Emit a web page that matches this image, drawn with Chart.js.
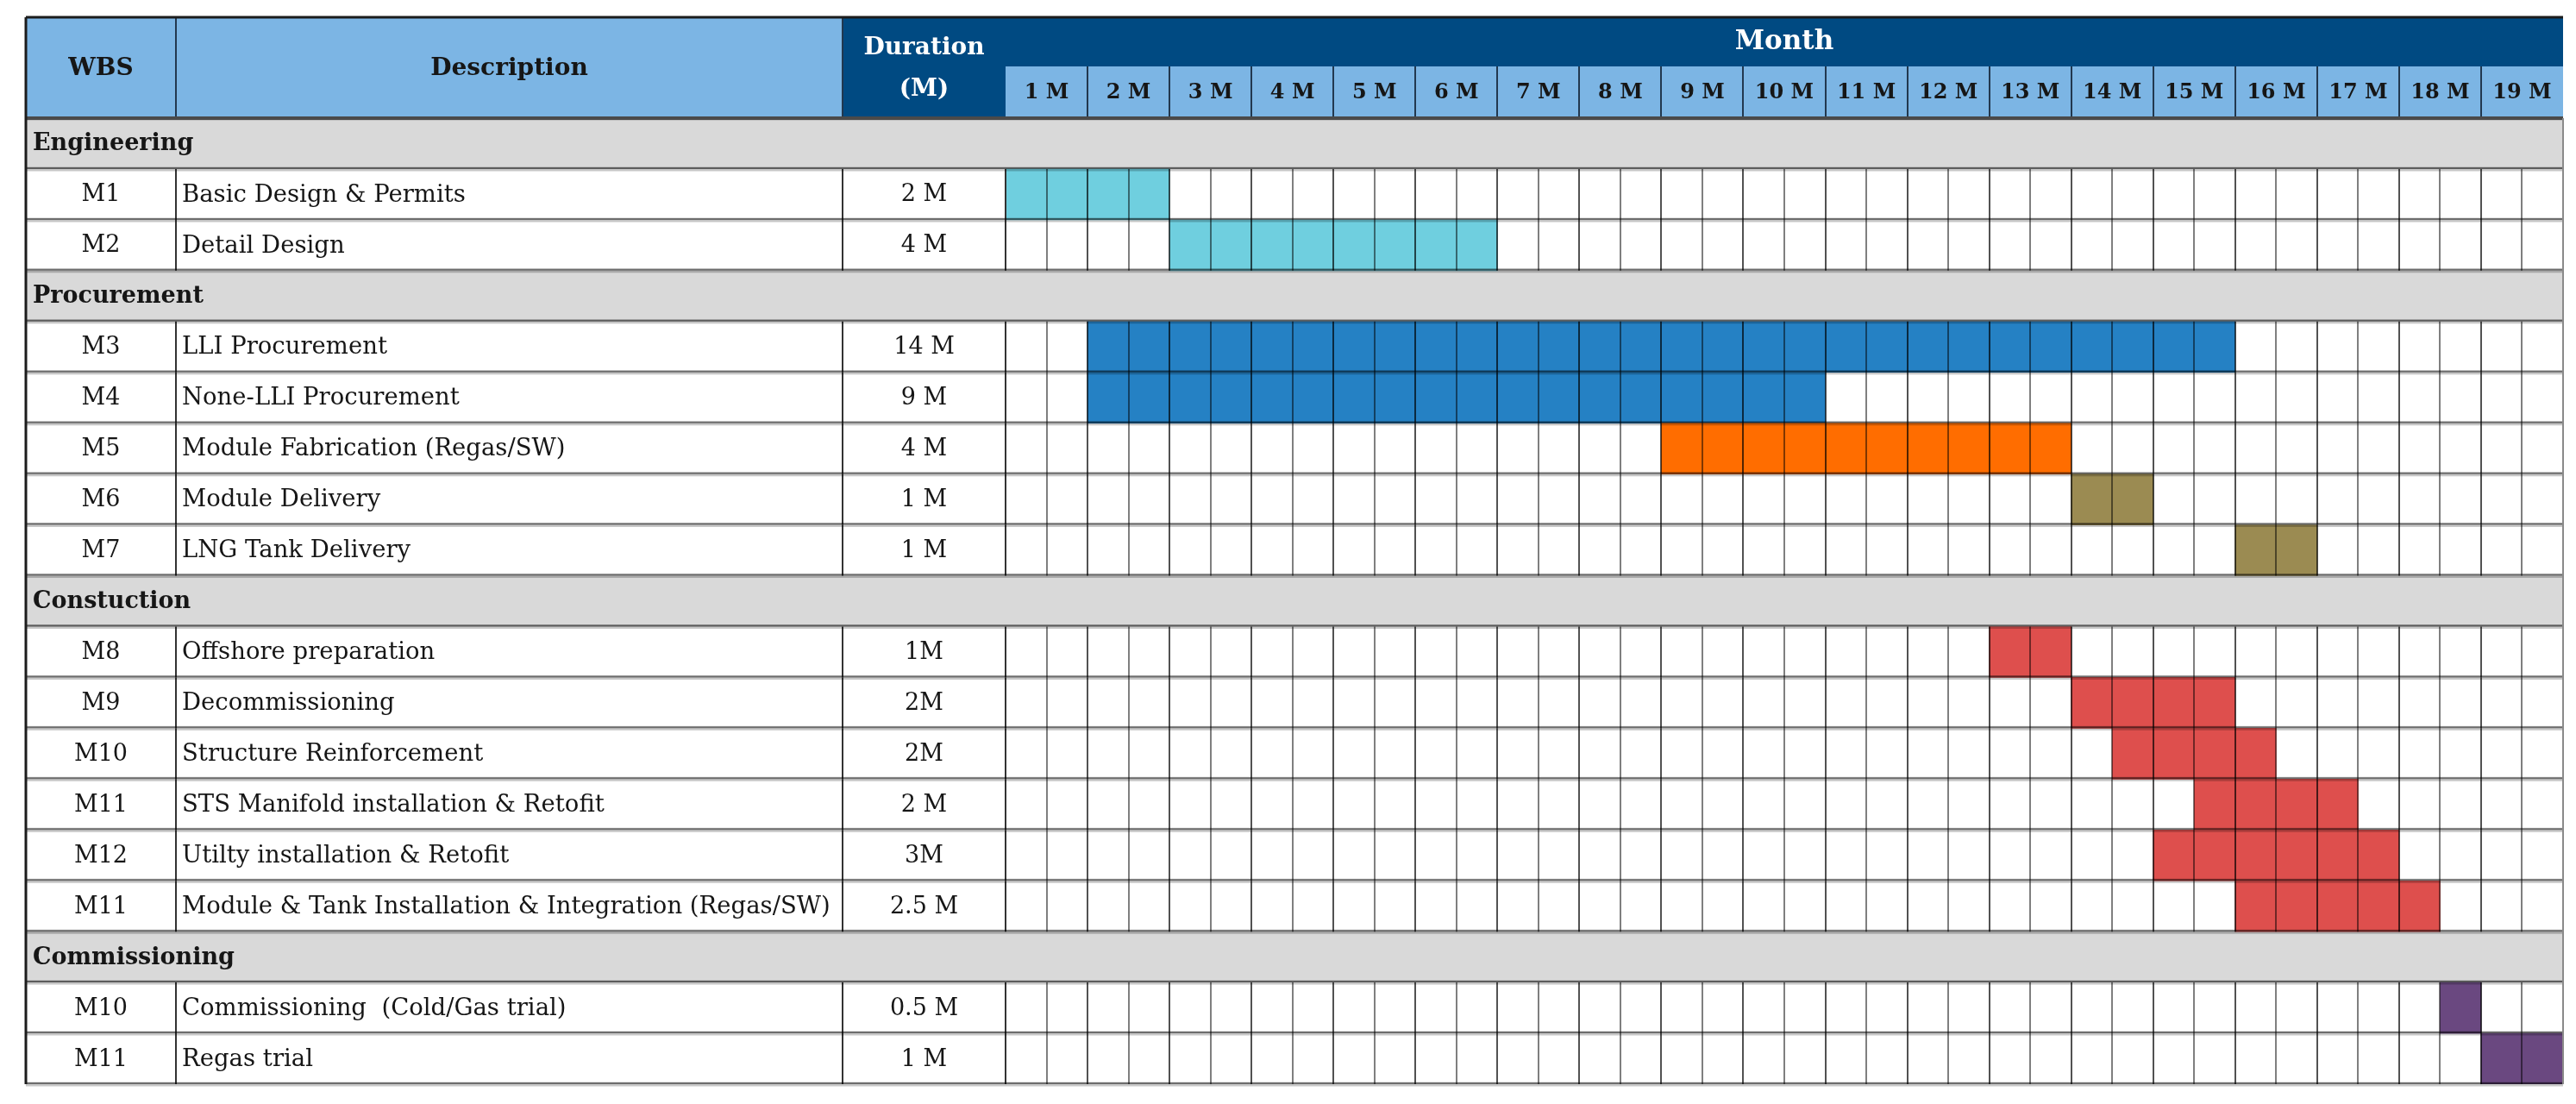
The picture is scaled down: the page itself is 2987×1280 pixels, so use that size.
<!DOCTYPE html>
<html>
<head>
<meta charset="utf-8">
<script src="https://cdn.jsdelivr.net/npm/chart.js@4/dist/chart.umd.min.js"></script>
<style>
  html, body { margin: 0; padding: 0; background: #fff; }
  #wrap { width: 2987px; height: 1280px; position: relative; }
</style>
</head>
<body>
<div id="wrap"><canvas id="gantt" width="2987" height="1280"></canvas></div>
<script>
// ---------------- DATA ----------------
const sectionNames = ['Engineering', 'Procurement', 'Constuction', 'Commissioning'];
const sectionTaskCounts = [2, 5, 6, 2];
const wbsCodes = ['M1', 'M2', 'M3', 'M4', 'M5', 'M6', 'M7', 'M8', 'M9', 'M10', 'M11', 'M12', 'M11', 'M10', 'M11'];
const descriptions = [
  'Basic Design & Permits',
  'Detail Design',
  'LLI Procurement',
  'None-LLI Procurement',
  'Module Fabrication (Regas/SW)',
  'Module Delivery',
  'LNG Tank Delivery',
  'Offshore preparation',
  'Decommissioning',
  'Structure Reinforcement',
  'STS Manifold installation & Retofit',
  'Utilty installation & Retofit',
  'Module & Tank Installation & Integration (Regas/SW)',
  'Commissioning  (Cold/Gas trial)',
  'Regas trial'
];
const durations = ['2 M', '4 M', '14 M', '9 M', '4 M', '1 M', '1 M', '1M', '2M', '2M', '2 M', '3M', '2.5 M', '0.5 M', '1 M'];
// schedule in half-month cells (0 = start of month 1)
const startHalfMonth = [0, 4, 2, 2, 16, 26, 30, 24, 26, 27, 29, 28, 30, 35, 36];
const endHalfMonth   = [4, 12, 30, 20, 26, 28, 32, 26, 30, 31, 33, 34, 35, 36, 38];
const taskColors = ['#6FCFDF', '#6FCFDF', '#2581C4', '#2581C4', '#FF6D00', '#9B8B52', '#9B8B52',
  '#DE4F4D', '#DE4F4D', '#DE4F4D', '#DE4F4D', '#DE4F4D', '#DE4F4D', '#6A4880', '#6A4880'];
const monthLabels = ['1 M', '2 M', '3 M', '4 M', '5 M', '6 M', '7 M', '8 M', '9 M', '10 M',
  '11 M', '12 M', '13 M', '14 M', '15 M', '16 M', '17 M', '18 M', '19 M'];
const headerTexts = { wbs: 'WBS', desc: 'Description', dur1: 'Duration', dur2: '(M)', month: 'Month' };

// ---------------- ROWS ----------------
const rowKeys = [];
const rowTask = [];
(function () {
  let t = 0;
  sectionNames.forEach((s, si) => {
    rowKeys.push('S' + si); rowTask.push(-1);
    for (let j = 0; j < sectionTaskCounts[si]; j++) {
      rowKeys.push('T' + t); rowTask.push(t); t++;
    }
  });
})();
const barData = rowTask.map(ti => ti < 0 ? null : [startHalfMonth[ti], endHalfMonth[ti]]);
const barColors = rowTask.map(ti => ti < 0 ? 'rgba(0,0,0,0)' : taskColors[ti]);

// ---------------- LAYOUT ----------------
const TABLE_LEFT = 30;
const WBS_RIGHT = 204;
const DESC_RIGHT = 977;
const HEADER_TOP = 20;
const MONTH_BAND_BOTTOM = 77;
const FONT = "'DejaVu Serif', 'Liberation Serif', serif";
const LIGHT_BLUE = '#7CB5E4';
const NAVY = '#004A82';
const BAND_GRAY = '#D9D9D9';
const TEXT = '#161616';

const ganttTable = {
  id: 'ganttTable',
  beforeDatasetsDraw(chart) {
    const { ctx, chartArea: a, scales: { y } } = chart;
    const rh = (a.bottom - a.top) / rowKeys.length;
    ctx.save();
    ctx.fillStyle = '#fff';
    ctx.fillRect(0, 0, chart.width, chart.height);
    rowTask.forEach((ti, i) => {
      if (ti < 0) {
        const cy = y.getPixelForValue(i);
        ctx.fillStyle = BAND_GRAY;
        ctx.fillRect(TABLE_LEFT, cy - rh / 2, a.right - TABLE_LEFT, rh);
      }
    });
    ctx.restore();
  },
  afterDatasetsDraw(chart) {
    const { ctx, chartArea: a, scales: { x, y } } = chart;
    const rh = (a.bottom - a.top) / rowKeys.length;
    const nCells = monthLabels.length * 2;
    ctx.save();

    // ---- grid lines inside task rows ----
    rowTask.forEach((ti, i) => {
      if (ti < 0) return;
      const cy = y.getPixelForValue(i);
      const t0 = cy - rh / 2, t1 = cy + rh / 2;
      for (let k = 1; k < nCells; k++) {
        const px = Math.round(x.getPixelForValue(k));
        ctx.strokeStyle = (k % 2 === 0) ? 'rgba(0,0,0,0.68)' : 'rgba(0,0,0,0.5)';
        ctx.lineWidth = 2;
        ctx.beginPath(); ctx.moveTo(px, t0); ctx.lineTo(px, t1); ctx.stroke();
      }
      ctx.strokeStyle = '#333';
      ctx.lineWidth = 2;
      [WBS_RIGHT, DESC_RIGHT, a.left].forEach(px => {
        ctx.beginPath(); ctx.moveTo(px, t0); ctx.lineTo(px, t1); ctx.stroke();
      });
    });

    // ---- horizontal separators ----
    for (let i = 0; i <= rowKeys.length; i++) {
      const py = a.top + i * rh;
      ctx.strokeStyle = 'rgba(0,0,0,0.22)';
      ctx.lineWidth = 5;
      ctx.beginPath(); ctx.moveTo(TABLE_LEFT, py); ctx.lineTo(a.right, py); ctx.stroke();
      ctx.strokeStyle = 'rgba(0,0,0,0.45)';
      ctx.lineWidth = 2;
      ctx.beginPath(); ctx.moveTo(TABLE_LEFT, py - 1); ctx.lineTo(a.right, py - 1); ctx.stroke();
    }

    // ---- header ----
    ctx.fillStyle = LIGHT_BLUE;
    ctx.fillRect(TABLE_LEFT, HEADER_TOP, DESC_RIGHT - TABLE_LEFT, a.top - HEADER_TOP);
    ctx.fillStyle = NAVY;
    ctx.fillRect(DESC_RIGHT, HEADER_TOP, a.right - DESC_RIGHT, a.top - HEADER_TOP);
    ctx.fillStyle = LIGHT_BLUE;
    ctx.fillRect(a.left, MONTH_BAND_BOTTOM, a.right - a.left, a.top - MONTH_BAND_BOTTOM);
    // header dividers
    ctx.strokeStyle = '#22384f';
    ctx.lineWidth = 2;
    [WBS_RIGHT, DESC_RIGHT].forEach(px => {
      ctx.beginPath(); ctx.moveTo(px, HEADER_TOP); ctx.lineTo(px, a.top); ctx.stroke();
    });
    for (let m = 1; m < monthLabels.length; m++) {
      const px = Math.round(x.getPixelForValue(m * 2));
      ctx.beginPath(); ctx.moveTo(px, MONTH_BAND_BOTTOM); ctx.lineTo(px, a.top); ctx.stroke();
    }
    // header bottom line
    ctx.strokeStyle = '#4a4a4a';
    ctx.lineWidth = 4;
    ctx.beginPath(); ctx.moveTo(TABLE_LEFT, a.top); ctx.lineTo(a.right, a.top); ctx.stroke();

    // outer border
    ctx.strokeStyle = '#1c1c1c';
    ctx.lineWidth = 3;
    ctx.beginPath(); ctx.moveTo(TABLE_LEFT, HEADER_TOP); ctx.lineTo(a.right, HEADER_TOP); ctx.stroke();
    ctx.beginPath(); ctx.moveTo(TABLE_LEFT, HEADER_TOP); ctx.lineTo(TABLE_LEFT, a.bottom); ctx.stroke();
    ctx.strokeStyle = '#8a8a8a';
    ctx.lineWidth = 2;
    ctx.beginPath(); ctx.moveTo(a.right, a.top); ctx.lineTo(a.right, a.bottom); ctx.stroke();

    // ---- header text ----
    ctx.textBaseline = 'middle';
    ctx.textAlign = 'center';
    ctx.fillStyle = TEXT;
    ctx.font = 'bold 28px ' + FONT;
    ctx.fillText(headerTexts.wbs, (TABLE_LEFT + WBS_RIGHT) / 2, 80);
    ctx.fillText(headerTexts.desc, (WBS_RIGHT + DESC_RIGHT) / 2, 80);
    ctx.fillStyle = '#fff';
    ctx.fillText(headerTexts.dur1, (DESC_RIGHT + a.left) / 2, 56);
    ctx.fillText(headerTexts.dur2, (DESC_RIGHT + a.left) / 2, 104);
    ctx.font = 'bold 31px ' + FONT;
    ctx.fillText(headerTexts.month, (a.left + a.right) / 2, 49);
    ctx.fillStyle = TEXT;
    ctx.font = 'bold 24px ' + FONT;
    monthLabels.forEach((lab, m) => {
      ctx.fillText(lab, x.getPixelForValue(m * 2 + 1), 108);
    });

    // ---- row text ----
    let sIdx = 0;
    rowTask.forEach((ti, i) => {
      const cy = y.getPixelForValue(i) + 1;
      if (ti < 0) {
        ctx.textAlign = 'left';
        ctx.font = 'bold 27px ' + FONT;
        ctx.fillStyle = TEXT;
        ctx.fillText(sectionNames[sIdx++], 38, cy);
        return;
      }
      ctx.font = '27px ' + FONT;
      ctx.fillStyle = TEXT;
      ctx.textAlign = 'center';
      ctx.fillText(wbsCodes[ti], (TABLE_LEFT + WBS_RIGHT) / 2, cy);
      ctx.fillText(durations[ti], (DESC_RIGHT + a.left) / 2, cy);
      ctx.textAlign = 'left';
      ctx.font = '27.5px ' + FONT;
      ctx.fillText(descriptions[ti], 211, cy);
    });

    ctx.restore();
  }
};

new Chart(document.getElementById('gantt'), {
  type: 'bar',
  data: {
    labels: rowKeys,
    datasets: [{
      data: barData,
      backgroundColor: barColors,
      borderWidth: 0,
      barPercentage: 1,
      categoryPercentage: 1,
      borderSkipped: false
    }]
  },
  options: {
    indexAxis: 'y',
    responsive: false,
    animation: false,
    devicePixelRatio: 1,
    layout: { padding: { left: 1166, right: 15, top: 137, bottom: 23 } },
    plugins: { legend: { display: false }, tooltip: { enabled: false }, title: { display: false } },
    scales: {
      x: { type: 'linear', min: 0, max: monthLabels.length * 2, display: false },
      y: { type: 'category', display: false, offset: true }
    }
  },
  plugins: [ganttTable]
});
</script>
</body>
</html>
